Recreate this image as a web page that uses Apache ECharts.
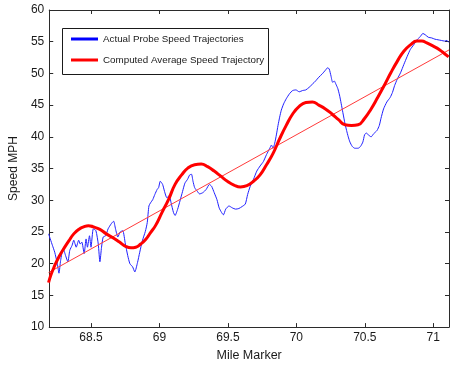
<!DOCTYPE html>
<html>
<head>
<meta charset="utf-8">
<script src="https://cdn.jsdelivr.net/npm/echarts@6/dist/echarts.min.js"></script>
<style>html,body{margin:0;padding:0;background:#fff}#c{width:458px;height:367px}</style>
</head>
<body>
<div id="c"></div>
<script>
// ---- Data ----
const xTickValues = [68.5, 69, 69.5, 70, 70.5, 71];
const xTickLabels = ['68.5', '69', '69.5', '70', '70.5', '71'];
const yTickLabels = ['10','15','20','25','30','35','40','45','50','55','60'];

const legendNames = ['Actual Probe Speed Trajectories', 'Computed Average Speed Trajectory'];

const probeMiles = [68.19,68.218,68.235,68.254,68.266,68.278,68.297,68.314,68.331,68.345,68.362,68.374,68.392,68.41,68.421,68.433,68.45,68.464,68.474,68.489,68.5,68.517,68.536,68.553,68.565,68.577,68.589,68.607,68.625,68.648,68.665,68.679,68.696,68.713,68.732,68.751,68.768,68.784,68.804,68.82,68.84,68.856,68.875,68.897,68.911,68.923,68.935,68.951,68.966,68.983,68.994,69.006,69.023,69.037,69.054,69.071,69.085,69.102,69.114,69.133,69.15,69.169,69.186,69.205,69.221,69.234,69.245,69.257,69.277,69.293,69.317,69.341,69.365,69.381,69.4,69.42,69.436,69.453,69.467,69.484,69.508,69.532,69.556,69.58,69.603,69.627,69.644,69.663,69.687,69.711,69.735,69.759,69.782,69.806,69.818,69.83,69.842,69.854,69.866,69.878,69.89,69.907,69.926,69.95,69.973,69.997,70.021,70.045,70.069,70.093,70.117,70.14,70.164,70.188,70.212,70.229,70.24,70.253,70.265,70.277,70.289,70.303,70.315,70.327,70.34,70.355,70.367,70.379,70.391,70.408,70.427,70.451,70.469,70.486,70.498,70.51,70.527,70.546,70.565,70.589,70.606,70.618,70.637,70.661,70.685,70.702,70.718,70.737,70.761,70.785,70.81,70.833,70.857,70.881,70.905,70.924,70.941,70.964,70.988,71.012,71.035,71.059,71.083,71.1,71.112];
const probeSpeeds = [24.7,22.9,21.8,20.0,18.5,20.5,22.4,21.3,20.3,22.1,22.9,23.7,22.6,23.7,23.1,23.4,21.6,23.9,22.6,24.4,22.6,25.5,25.2,23.1,20.3,22.6,24.2,24.4,25.5,26.3,26.7,25.5,24.2,25.0,25.2,23.1,21.3,20.0,19.5,18.7,20.2,21.8,23.6,25.1,26.5,29.1,29.6,30.1,30.9,31.7,32.0,33.0,32.5,31.4,30.4,30.7,29.6,28.1,27.6,28.6,29.9,31.4,32.7,33.3,34.0,34.1,33.0,32.0,31.4,31.0,31.2,31.7,32.5,32.2,31.2,30.1,28.8,28.1,27.7,28.6,29.1,28.8,28.6,28.7,29.0,29.4,30.9,32.2,33.3,34.6,35.4,36.1,37.2,38.2,38.7,38.2,39.0,40.3,41.8,43.1,44.2,45.2,46.0,46.8,47.3,47.4,47.1,47.3,47.4,47.8,48.3,48.8,49.4,49.9,50.5,50.9,50.7,49.6,48.6,48.8,48.3,47.6,46.6,45.3,43.8,42.1,41.0,40.0,39.2,38.5,38.2,38.2,38.5,39.2,40.3,40.6,40.3,40.0,40.5,41.0,41.8,42.9,44.4,45.5,46.2,47.0,48.1,49.1,50.1,51.4,52.7,53.8,54.5,55.3,55.8,56.3,56.1,55.7,55.6,55.4,55.3,55.2,55.1,55.2,54.9];

const avgMiles = [68.19,68.207,68.231,68.266,68.302,68.338,68.374,68.41,68.446,68.481,68.517,68.565,68.612,68.66,68.708,68.756,68.792,68.827,68.863,68.899,68.935,68.971,69.019,69.066,69.114,69.162,69.209,69.257,69.305,69.352,69.4,69.448,69.496,69.544,69.592,69.639,69.687,69.735,69.782,69.83,69.878,69.926,69.973,70.021,70.069,70.117,70.164,70.212,70.26,70.308,70.355,70.403,70.451,70.498,70.546,70.594,70.642,70.69,70.737,70.785,70.833,70.881,70.917,70.953,71.0,71.048,71.083,71.112];
const avgSpeeds = [17.0,18.2,19.5,21.1,22.4,23.6,24.7,25.4,25.8,26.0,25.8,25.4,24.7,24.1,23.4,22.7,22.5,22.6,23.1,23.8,24.9,26.0,28.1,30.1,32.5,34.0,35.1,35.6,35.7,35.3,34.6,33.8,33.0,32.4,32.1,32.3,33.0,34.0,35.6,37.4,39.7,41.8,43.6,44.8,45.4,45.5,45.0,44.4,43.6,42.7,41.9,41.8,41.9,42.9,44.4,46.2,48.1,50.1,51.9,53.5,54.5,55.1,55.1,54.8,54.3,53.7,53.1,52.6];

const trendMiles = [68.19, 71.115];
const trendSpeeds = [18.6, 53.7];

// ---- Build chart ----
const zip = (a, b) => a.map((v, i) => [v, b[i]]);
const X_MIN = 68.195, X_MAX = 71.115;
const axisColor = '#2b2b2b';
const labelFont = { fontFamily: 'Liberation Sans, Arial, sans-serif', fontSize: 12, color: '#1a1a1a' };

const chart = echarts.init(document.getElementById('c'), null, { renderer: 'canvas' });
chart.setOption({
  animation: false,
  backgroundColor: '#ffffff',
  grid: { left: 41, right: 9, top: 10, bottom: 35, containLabel: false },
  xAxis: [
    {
      type: 'value', min: X_MIN, max: X_MAX, position: 'bottom',
      name: 'Mile Marker', nameLocation: 'middle', nameGap: 19,
      nameTextStyle: { fontFamily: 'Liberation Sans, Arial, sans-serif', fontSize: 12.5, color: '#1a1a1a' },
      axisLine: { show: true, onZero: false, lineStyle: { color: axisColor, width: 1 } },
      axisTick: { show: true, inside: true, length: 4, customValues: xTickValues, lineStyle: { color: axisColor } },
      axisLabel: { show: true, margin: 5, customValues: xTickValues,
        formatter: v => xTickLabels[xTickValues.indexOf(v)] ?? String(v), ...labelFont },
      splitLine: { show: false }
    },
    {
      type: 'value', min: X_MIN, max: X_MAX, position: 'top',
      axisLine: { show: true, onZero: false, lineStyle: { color: axisColor, width: 1 } },
      axisTick: { show: true, inside: true, length: 4, customValues: xTickValues, lineStyle: { color: axisColor } },
      axisLabel: { show: false },
      splitLine: { show: false }
    }
  ],
  yAxis: [
    {
      type: 'value', min: 10, max: 60, interval: 5, position: 'left',
      name: 'Speed MPH', nameLocation: 'middle', nameGap: 25, nameRotate: 90,
      nameTextStyle: { fontFamily: 'Liberation Sans, Arial, sans-serif', fontSize: 12, color: '#1a1a1a' },
      axisLine: { show: true, onZero: false, lineStyle: { color: axisColor, width: 1 } },
      axisTick: { show: true, inside: true, length: 4, lineStyle: { color: axisColor } },
      axisLabel: { show: true, margin: 5, formatter: v => yTickLabels[Math.round((v - 10) / 5)] ?? String(v), ...labelFont },
      splitLine: { show: false }
    },
    {
      type: 'value', min: 10, max: 60, interval: 5, position: 'right',
      axisLine: { show: true, onZero: false, lineStyle: { color: axisColor, width: 1 } },
      axisTick: { show: true, inside: true, length: 4, lineStyle: { color: axisColor } },
      axisLabel: { show: false },
      splitLine: { show: false }
    }
  ],
  legend: {
    data: legendNames,
    orient: 'vertical', left: 62, top: 28,
    padding: [4, 6, 6, 9],
    itemWidth: 27, itemHeight: 3, itemGap: 7,
    icon: 'rect',
    z: 10,
    textStyle: { fontFamily: "'Liberation Sans', sans-serif", fontSize: 9.8, lineHeight: 14, color: '#1a1a1a' }
  },
  graphic: [{
    type: 'rect', left: 62, top: 28, z: 9,
    shape: { x: 0, y: 0, width: 206, height: 46 },
    style: { fill: '#ffffff', stroke: '#1a1a1a', lineWidth: 1 }
  }],
  series: [
    {
      name: legendNames[0], type: 'line', data: zip(probeMiles, probeSpeeds),
      showSymbol: false, smooth: 0.2, color: '#0000ff',
      lineStyle: { color: '#2020ff', width: 1 }, z: 2
    },
    {
      name: 'trend', type: 'line', data: zip(trendMiles, trendSpeeds),
      showSymbol: false, color: '#ff0000',
      lineStyle: { color: '#ff3a3a', width: 1 }, z: 3
    },
    {
      name: legendNames[1], type: 'line', data: zip(avgMiles, avgSpeeds),
      showSymbol: false, smooth: true, color: '#ff0000',
      lineStyle: { color: '#ff0000', width: 3 }, z: 4
    }
  ]
});
</script>
</body>
</html>
